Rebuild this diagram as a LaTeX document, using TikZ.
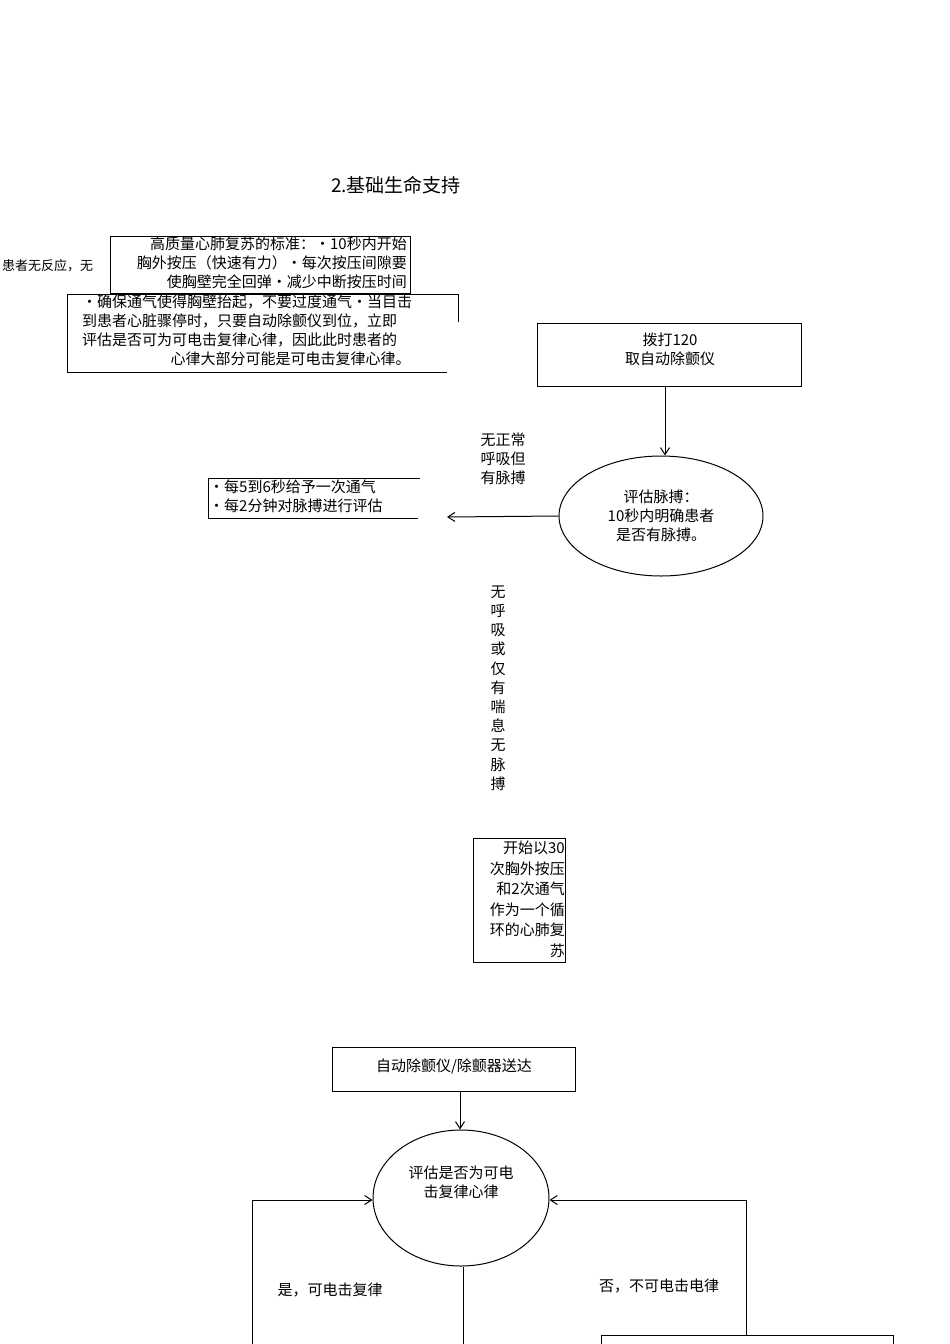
\documentclass[tikz,border=0pt]{standalone}
\usepackage{fontspec}
\setmainfont{Noto Sans CJK SC}
\usetikzlibrary{arrows.meta,shapes.geometric}
\begin{document}
\begin{tikzpicture}[x=1pt,y=-1pt,
  txt/.style={font=\fontsize{15}{19}\selectfont,inner sep=0pt},
  box/.style={draw,line width=0.8pt},
  arr/.style={-{Straight Barb[length=7pt,width=9pt]},line width=1pt},
  ln/.style={line width=1pt}]
\useasboundingbox (0,0) rectangle (950,1344);
\node[txt,font=\fontsize{19}{22}\selectfont] (title) at (396,185) {2.基础生命支持};
\node[txt,anchor=west,font=\fontsize{13}{16}\selectfont] (pt) at (2,266) {患者无反应，无};
\draw[box] (110,236) rectangle (410,293);
\node[txt,align=right,anchor=north east] (std) at (407,237) {高质量心肺复苏的标准：·10秒内开始\\胸外按压（快速有力）•每次按压间隙要\\使胸壁完全回弹•减少中断按压时间};
\draw[box] (458,322) -- (458,294) -- (67,294) -- (67,372) -- (447,372);
\node[txt,align=left,anchor=north west] (std2) at (82,295) {•确保通气使得胸壁抬起，不要过度通气•当目击\\到患者心脏骤停时，只要自动除颤仪到位，立即\\评估是否可为可电击复律心律，因此此时患者的\\\hspace*{5.9em}心律大部分可能是可电击复律心律。};
\node[box,minimum width=264pt,minimum height=63pt,txt,align=center,anchor=north west,text depth=0pt] (call) at (537,323) {};
\node[txt,align=center] (callt) at (670,349) {拨打120\\取自动除颤仪};
\node[draw,ellipse,line width=1pt,minimum width=204pt,minimum height=120pt,txt,align=center] (pulse) at (661,516) {评估脉搏：\\10秒内明确患者\\是否有脉搏。};
\draw[arr] (call.south -| 665,0) -- (pulse.north -| 665,0);
\node[txt,align=left] (l1) at (503,459) {无正常\\呼吸但\\有脉搏};
\draw[box] (420,478) -- (208,478) -- (208,518) -- (418,518);
\node[txt,align=left,anchor=north west] (vent) at (209,480) {•每5到6秒给予一次通气\\•每2分钟对脉搏进行评估};
\coordinate (ventR) at (447,517);
\draw[arr] (pulse.west) -- (ventR);
\node[txt,align=center,font=\fontsize{15}{19.2}\selectfont] (l2) at (498,688) {无\\呼\\吸\\或\\仅\\有\\喘\\息\\无\\脉\\搏};
\draw[box] (473,838) rectangle (565,962);
\node[txt,align=right,anchor=north east,font=\fontsize{15}{20.5}\selectfont] (cpr) at (565,841) {开始以30\\次胸外按压\\和2次通气\\作为一个循\\环的心肺复\\苏};
\node[box,minimum width=243pt,minimum height=44pt,anchor=north west] (aed) at (332,1047) {};
\node[txt] (aedt) at (454,1066) {自动除颤仪/除颤器送达};
\node[draw,ellipse,line width=1pt,minimum width=176pt,minimum height=136pt,txt,align=center] (rhy) at (461,1198) {评估是否为可电\\击复律心律\\[14pt]};
\draw[arr] (aed.south -| 460,0) -- (rhy.north -| 460,0);
\coordinate (lb) at (252,1344);
\coordinate (lt) at (252,1200);
\coordinate (rb) at (746,1335);
\coordinate (rt) at (746,1200);
\draw[ln] (lb) -- (lt);
\draw[arr] (lt) -- (rhy.west |- lt);
\draw[ln] (rb) -- (rt);
\draw[arr] (rt) -- (rhy.east |- rt);
\coordinate (cb) at (463,1344);
\draw[ln] (rhy.south -| 463,0) -- (cb);
\node[txt] (yes) at (330,1290) {是，可电击复律};
\node[txt] (no) at (659,1286) {否，不可电击电律};
\draw[box] (601,1360) -- (601,1335) -- (893,1335) -- (893,1360);
\end{tikzpicture}
\end{document}
